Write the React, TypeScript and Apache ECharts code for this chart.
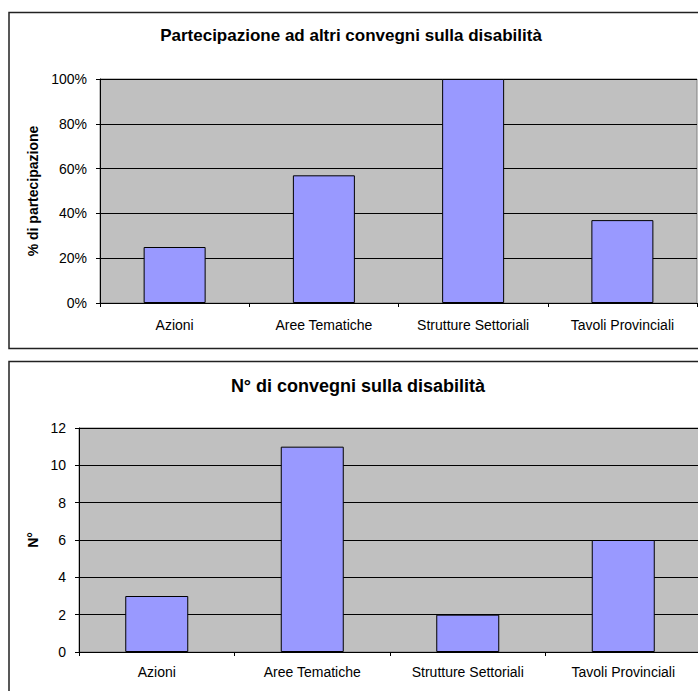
import React, { useEffect, useRef } from 'react';
import * as echarts from 'echarts';

const categories = ['Azioni', 'Aree Tematiche', 'Strutture Settoriali', 'Tavoli Provinciali'];
const partecipazionePct = [25, 57, 100, 37];
const numeroConvegni = [3, 11, 2, 6];
const titleTop = 'Partecipazione ad altri convegni sulla disabilità';
const titleBottom = 'N° di convegni sulla disabilità';
const yNameTop = '% di partecipazione';
const yNameBottom = 'N°';

const FONT = 'Liberation Sans, Arial, sans-serif';

export default function App() {
  const ref = useRef<HTMLDivElement>(null);
  useEffect(() => {
    if (!ref.current) return;
    const chart = echarts.init(ref.current, null, { renderer: 'svg' });
    const xAxisBase = (gridIndex: number, margin: number) => ({
      gridIndex,
      type: 'category',
      data: categories,
      axisLine: { show: true, lineStyle: { color: '#000', width: 1 } },
      axisTick: { show: true, length: 4, inside: false, lineStyle: { color: '#000' } },
      axisLabel: { margin, fontSize: 14, color: '#000', fontFamily: FONT },
    });
    const yAxisBase = (gridIndex: number) => ({
      gridIndex,
      type: 'value',
      min: 0,
      axisLine: { show: true, lineStyle: { color: '#000', width: 1 } },
      axisTick: { show: true, length: 4, inside: false, lineStyle: { color: '#000' } },
      axisLabel: { margin: 13, fontSize: 14, color: '#000', fontFamily: FONT },
      splitLine: { show: true, lineStyle: { color: '#000', width: 1 } },
      nameLocation: 'middle',
      nameRotate: 90,
      nameTextStyle: { fontSize: 14, fontWeight: 'bold', color: '#000', fontFamily: FONT },
    });
    const option: any = {
      animation: false,
      backgroundColor: '#fff',
      textStyle: { fontFamily: FONT },
      grid: [
        { left: 100, top: 79, width: 597, height: 224, show: true, backgroundColor: '#C0C0C0', borderColor: '#808080', borderWidth: 1, containLabel: false },
        { left: 79, top: 428, width: 622, height: 224, show: true, backgroundColor: '#C0C0C0', borderColor: '#808080', borderWidth: 1, containLabel: false },
      ],
      xAxis: [xAxisBase(0, 15), xAxisBase(1, 13)],
      yAxis: [
        {
          ...yAxisBase(0),
          max: 100,
          interval: 20,
          name: yNameTop,
          nameGap: 60,
          axisLabel: { margin: 13, fontSize: 14, color: '#000', fontFamily: FONT, formatter: '{value}%' },
        },
        {
          ...yAxisBase(1),
          max: 12,
          interval: 2,
          name: yNameBottom,
          nameGap: 39,
        },
      ],
      series: [
        {
          type: 'bar',
          xAxisIndex: 0,
          yAxisIndex: 0,
          data: partecipazionePct,
          barWidth: 62,
          itemStyle: { color: '#9999FF', borderColor: '#000', borderWidth: 1 },
        },
        {
          type: 'bar',
          xAxisIndex: 1,
          yAxisIndex: 1,
          data: numeroConvegni,
          barWidth: 63,
          itemStyle: { color: '#9999FF', borderColor: '#000', borderWidth: 1 },
        },
      ],
      graphic: [
        { type: 'rect', shape: { x: 9, y: 12.5, width: 720, height: 336 }, style: { fill: 'none', stroke: '#222', lineWidth: 1.5 }, silent: true },
        { type: 'rect', shape: { x: 9, y: 361.5, width: 720, height: 400 }, style: { fill: 'none', stroke: '#222', lineWidth: 1.5 }, silent: true },
        { type: 'text', x: 351, y: 35, style: { text: titleTop, fontSize: 17, fontWeight: 'bold', fill: '#000', fontFamily: FONT, textAlign: 'center', textVerticalAlign: 'middle' } },
        { type: 'text', x: 358, y: 386, style: { text: titleBottom, fontSize: 18, fontWeight: 'bold', fill: '#000', fontFamily: FONT, textAlign: 'center', textVerticalAlign: 'middle' } },
      ],
    };
    chart.setOption(option);
    return () => chart.dispose();
  }, []);
  return (
    <div style={{ position: 'fixed', left: 0, top: 0, width: 698, height: 691, overflow: 'hidden', background: '#fff' }}>
      <div ref={ref} style={{ width: 720, height: 691 }} />
    </div>
  );
}
